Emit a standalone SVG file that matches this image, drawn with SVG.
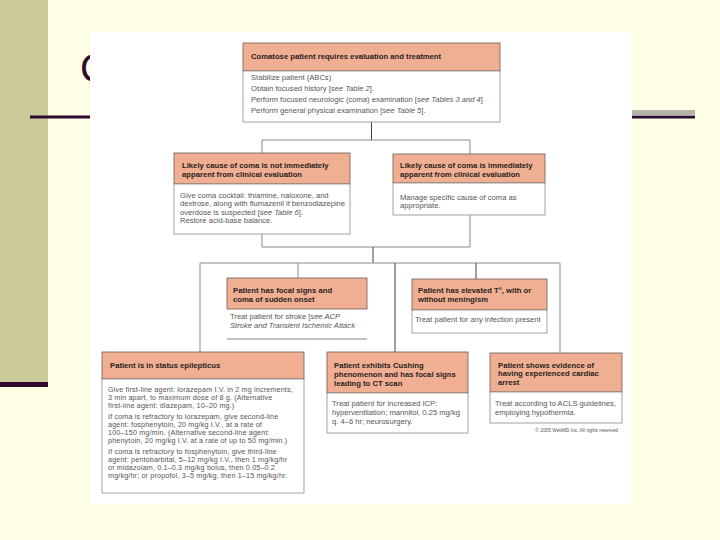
<svg xmlns="http://www.w3.org/2000/svg" width="720" height="540" viewBox="0 0 720 540">
<style>
.hdr{fill:#F0AF93;stroke:#6e5a50;stroke-width:0.8}
.bod{fill:#ffffff;stroke:#8a8a8a;stroke-width:0.8}
.ht{font-family:"Liberation Sans",Arial,sans-serif;font-size:7.7px;font-weight:bold;fill:#2a2220}
.bt{font-family:"Liberation Sans",Arial,sans-serif;font-size:7.6px;fill:#555}
.st{font-family:"Liberation Sans",Arial,sans-serif;font-size:7.2px;letter-spacing:0.15px;fill:#555}
.it{font-style:italic}
.cl{stroke:#8c8c8c;stroke-width:1;fill:none}
.cd{stroke:#444;stroke-width:1;fill:none}
</style>
<rect x="0" y="0" width="720" height="540" fill="#FFFFE6"/>
<rect x="0" y="0" width="48" height="382" fill="#CBCB9A"/>
<rect x="0" y="382" width="48" height="5" fill="#2E0A2E"/>
<text x="80" y="82" font-family="Liberation Sans, Arial, sans-serif" font-size="40" fill="#2E0A2E">C</text>
<rect x="30" y="115.5" width="665" height="3" fill="#2E0A2E"/>
<rect x="632" y="110" width="63" height="5.5" fill="#B4B4A8"/>
<rect x="90" y="32" width="542" height="472" fill="#ffffff"/>

<g id="connectors">
<path class="cd" d="M371.5 122 V140"/>
<path class="cl" d="M262 140 H470 M262 140 V153 M470 140 V154"/>
<path class="cl" d="M262 234 V247 H470 V215"/>
<path class="cd" d="M373 247 V263"/>
<path class="cl" d="M200 263 H560 M200 263 V352 M298 263 V278 M560 263 V353"/>
<path class="cd" d="M395 263 V352 M476 263 V279"/>
</g>

<g id="node-top">
<rect class="hdr" x="243" y="43" width="257" height="28"/>
<rect class="bod" x="243" y="71" width="257" height="51"/>
<text class="ht" x="251" y="58.5">Comatose patient requires evaluation and treatment</text>
<text class="bt" x="251" y="79.5">Stabilize patient (ABCs)</text>
<text class="bt" x="251" y="91">Obtain focused history [<tspan class="it">see Table 2</tspan>].</text>
<text class="bt" x="251" y="102">Perform focused neurologic (coma) examination [<tspan class="it">see Tables 3 and 4</tspan>]</text>
<text class="bt" x="251" y="113">Perform general physical examination [<tspan class="it">see Table 5</tspan>].</text>
</g>

<g id="node-not-apparent">
<rect class="hdr" x="174" y="153" width="176" height="31"/>
<rect class="bod" x="174" y="184" width="176" height="50"/>
<text class="ht" x="182" y="167.5">Likely cause of coma is not immediately</text>
<text class="ht" x="182" y="176.5">apparent from clinical evaluation</text>
<text class="bt" x="180" y="197.5">Give coma cocktail: thiamine, naloxone, and</text>
<text class="bt" x="180" y="206">dextrose, along with flumazenil if benzodiazepine</text>
<text class="bt" x="180" y="214.5">overdose is suspected [<tspan class="it">see Table 6</tspan>].</text>
<text class="bt" x="180" y="223">Restore acid-base balance.</text>
</g>

<g id="node-apparent">
<rect class="hdr" x="393" y="154" width="152" height="29"/>
<rect class="bod" x="393" y="183" width="152" height="32"/>
<text class="ht" x="400" y="167.5">Likely cause of coma is immediately</text>
<text class="ht" x="400" y="176.5">apparent from clinical evaluation</text>
<text class="bt" x="400" y="199.5">Manage specific cause of coma as</text>
<text class="bt" x="400" y="207.5">appropriate.</text>
</g>

<g id="node-focal">
<rect class="hdr" x="227" y="278" width="140" height="31"/>
<path d="M227 339 H367" stroke="#6a6a6a" stroke-width="0.8"/>
<text class="ht" x="233" y="292.5">Patient has focal signs and</text>
<text class="ht" x="233" y="301.5">coma of sudden onset</text>
<text class="bt" x="230" y="318.5">Treat patient for stroke [<tspan class="it">see ACP</tspan></text>
<text class="bt it" x="230" y="328">Stroke and Transient Ischemic Attack</text>
</g>

<g id="node-fever">
<rect class="hdr" x="412" y="279" width="135" height="31"/>
<rect class="bod" x="412" y="310" width="135" height="23"/>
<text class="ht" x="418" y="292.5">Patient has elevated T°, with or</text>
<text class="ht" x="418" y="301.5">without meningism</text>
<text class="bt" x="415" y="322">Treat patient for any infection present</text>
</g>

<g id="node-status">
<rect class="hdr" x="102" y="352" width="202" height="27"/>
<rect class="bod" x="102" y="379" width="202" height="114"/>
<text class="ht" x="110" y="367.5">Patient is in status epilepticus</text>
<text class="st" x="108" y="391.5">Give first-line agent: lorazepam I.V. in 2 mg increments,</text>
<text class="st" x="108" y="399.5">3 min apart, to maximum dose of 8 g. (Alternative</text>
<text class="st" x="108" y="407.5">first-line agent: diazepam, 10–20 mg.)</text>
<text class="st" x="108" y="418.5">If coma is refractory to lorazepam, give second-line</text>
<text class="st" x="108" y="426.5">agent: fosphenytoin, 20 mg/kg I.V., at a rate of</text>
<text class="st" x="108" y="434.5">100–150 mg/min. (Alternative second-line agent:</text>
<text class="st" x="108" y="442.5">phenytoin, 20 mg/kg I.V. at a rate of up to 50 mg/min.)</text>
<text class="st" x="108" y="453.5">If coma is refractory to fosphenytoin, give third-line</text>
<text class="st" x="108" y="461.5">agent: pentobarbital, 5–12 mg/kg I.V., then 1 mg/kg/hr</text>
<text class="st" x="108" y="469.5">or midazolam, 0.1–0.3 mg/kg bolus, then 0.05–0.2</text>
<text class="st" x="108" y="477.5">mg/kg/hr; or propofol, 3–5 mg/kg, then 1–15 mg/kg/hr.</text>
</g>

<g id="node-cushing">
<rect class="hdr" x="327" y="352" width="141" height="41"/>
<rect class="bod" x="327" y="393" width="141" height="40"/>
<text class="ht" x="334" y="367.5">Patient exhibits Cushing</text>
<text class="ht" x="334" y="376.5">phenomenon and has focal signs</text>
<text class="ht" x="334" y="385.5">leading to CT scan</text>
<text class="bt" x="332" y="405.5">Treat patient for increased ICP:</text>
<text class="bt" x="332" y="414.5">hyperventilation; mannitol, 0.25 mg/kg</text>
<text class="bt" x="332" y="424">q. 4–6 hr; neurosurgery.</text>
</g>

<g id="node-cardiac">
<rect class="hdr" x="490" y="353" width="132" height="39"/>
<rect class="bod" x="490" y="392" width="132" height="31"/>
<text class="ht" x="498" y="367.5">Patient shows evidence of</text>
<text class="ht" x="498" y="376">having experienced cardiac</text>
<text class="ht" x="498" y="384.5">arrest</text>
<text class="bt" x="495" y="405.5">Treat according to ACLS guidelines,</text>
<text class="bt" x="495" y="414.5">employing hypothermia.</text>
</g>
<text x="618" y="432" text-anchor="end" font-family="Liberation Sans, Arial, sans-serif" font-size="4.8" fill="#555">© 2005 WebMD Inc. All rights reserved</text>
</svg>
